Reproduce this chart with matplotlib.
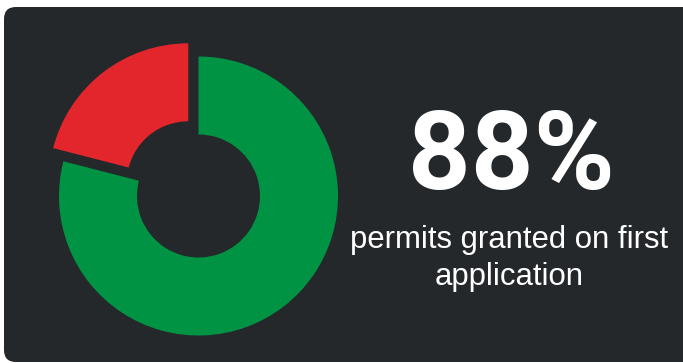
import matplotlib
matplotlib.use('Agg')
import matplotlib.pyplot as plt
from matplotlib.patches import FancyBboxPatch

# share of permits, refused/other vs granted
slice_names = ['other', 'granted']
slice_values = [21, 79]
headline = '88%'
caption_lines = ['permits granted on first', 'application']

card_color = '#25282b'
red = '#e3262b'
green = '#009343'

W, H = 683, 363
fig = plt.figure(figsize=(W / 100, H / 100), dpi=100)
fig.patch.set_facecolor('white')
ax = fig.add_axes([0, 0, 1, 1])

card = FancyBboxPatch((4, 1), 700, 355, boxstyle='round,pad=0,rounding_size=12',
                      facecolor=card_color, edgecolor='none', zorder=0)
ax.add_patch(card)

ax.pie(slice_values, colors=[red, green], startangle=90, counterclock=True,
       center=(198.5, 167), radius=139.5, explode=[16.7, 0],
       wedgeprops=dict(width=78, edgecolor='none'))

ax.text(511.5, 174, headline, ha='center', va='baseline', color='white',
        fontsize=79, fontweight='bold', family='Roboto')
for y, line in zip([114.7, 78], caption_lines):
    ax.text(509, y, line, ha='center', va='baseline', color='white',
            fontsize=22.4, family='Liberation Sans')

ax.set_xlim(0, W)
ax.set_ylim(0, H)
ax.set_aspect('auto')
ax.axis('off')

plt.savefig('out.png', dpi=100)
